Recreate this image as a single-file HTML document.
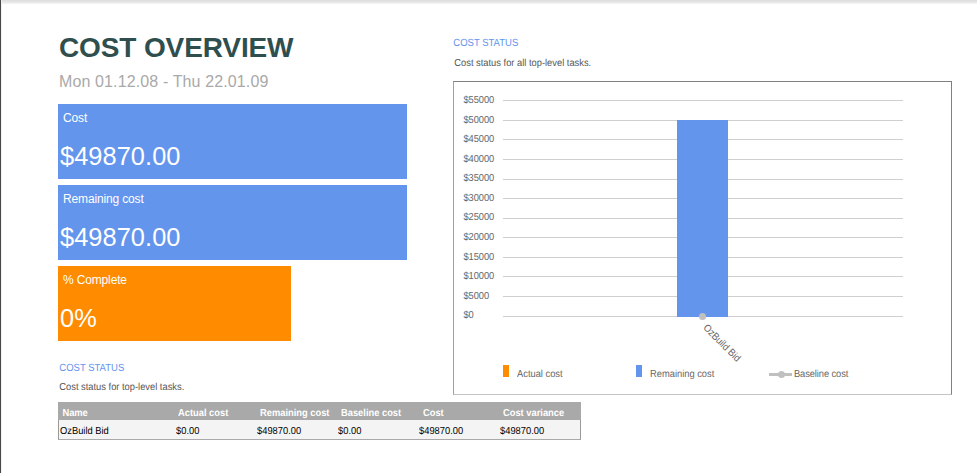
<!DOCTYPE html>
<html><head><meta charset="utf-8">
<style>
html,body{margin:0;padding:0;background:#fff;}
body{width:977px;height:473px;position:relative;overflow:hidden;font-family:"Liberation Sans",sans-serif;}
.abs{position:absolute;white-space:nowrap;}
#topbar{left:2px;top:0;width:975px;height:4px;background:linear-gradient(#dcdcdc 0,#e6e6e6 50%,#f6f6f6 100%);}
#leftbar{left:0;top:0;width:2px;height:473px;background:linear-gradient(90deg,#484848 0,#484848 1px,#f2f2f2 1px,#f2f2f2 2px);}
#title{left:59px;top:31px;font-size:28px;font-weight:bold;color:#2f4f4f;line-height:34px;letter-spacing:-0.12px;}
#sub{left:59px;top:72px;font-size:16px;color:#a9a9a9;line-height:20px;letter-spacing:0.125px;}
.box{position:absolute;color:#fff;}
.box .l{position:absolute;left:5px;top:7px;font-size:12px;line-height:14px;white-space:nowrap;letter-spacing:-0.15px;}
.box .v{position:absolute;left:2px;top:37px;letter-spacing:0.05px;font-size:25.4px;line-height:31px;white-space:nowrap;}
.s{font-size:9.33px;line-height:12px;}
.h{color:#6495ed;font-size:9.5px;}
.d{color:#555;}
#chart{left:453px;top:81px;width:497px;height:312px;border:1px solid #808080;border-left-color:#a0a0a0;border-bottom-color:#c4c4c4;}
.gl{left:503px;width:400px;height:1px;background:#cfcfcf;}
.ax{left:463.4px;letter-spacing:-0.05px;font-size:9.33px;line-height:12px;color:#666;}
.lg{font-size:9.33px;line-height:12px;color:#666;}
#thead{left:58px;top:402px;width:523px;height:18px;background:#a9a9a9;}
#trow{left:58px;top:420px;width:521px;height:19px;background:#f4f4f4;border-left:1px solid #999;border-right:1px solid #999;border-bottom:1px solid #aaa;}
.th{top:407px;font-size:9.33px;line-height:12px;font-weight:bold;color:#fff;}
.td{top:425px;font-size:9.33px;line-height:12px;color:#000;}
.s,.ax,.th,.td,.lgx{text-rendering:geometricPrecision;transform:scaleY(1.09);transform-origin:0 77%;}
</style></head><body>
<div class="abs" id="topbar"></div>
<div class="abs" id="leftbar"></div>
<div class="abs" id="title">COST OVERVIEW</div>
<div class="abs" id="sub">Mon 01.12.08 - Thu 22.01.09</div>
<div class="box" style="left:58px;top:104px;width:349px;height:75px;background:#6495ed;"><div class="l">Cost</div><div class="v">$49870.00</div></div>
<div class="box" style="left:58px;top:185px;width:349px;height:75px;background:#6495ed;"><div class="l">Remaining cost</div><div class="v">$49870.00</div></div>
<div class="box" style="left:58px;top:266px;width:233px;height:75px;background:#ff8c00;"><div class="l">% Complete</div><div class="v">0%</div></div>
<div class="abs s h" style="left:59.3px;top:362.8px;">COST STATUS</div>
<div class="abs s d" style="left:59.3px;top:381px;">Cost status for top-level tasks.</div>
<div class="abs s h" style="left:453.3px;top:37.8px;">COST STATUS</div>
<div class="abs s d" style="left:454.3px;top:57px;">Cost status for all top-level tasks.</div>

<div class="abs" id="chart"></div>
<div class="abs gl" style="top:100px"></div>
<div class="abs gl" style="top:120px"></div>
<div class="abs gl" style="top:139px"></div>
<div class="abs gl" style="top:159px"></div>
<div class="abs gl" style="top:179px"></div>
<div class="abs gl" style="top:198px"></div>
<div class="abs gl" style="top:218px"></div>
<div class="abs gl" style="top:237px"></div>
<div class="abs gl" style="top:257px"></div>
<div class="abs gl" style="top:276px"></div>
<div class="abs gl" style="top:296px"></div>
<div class="abs gl" style="top:316px"></div>
<div class="abs ax" style="top:94px">$55000</div>
<div class="abs ax" style="top:114px">$50000</div>
<div class="abs ax" style="top:133px">$45000</div>
<div class="abs ax" style="top:153px">$40000</div>
<div class="abs ax" style="top:172px">$35000</div>
<div class="abs ax" style="top:192px">$30000</div>
<div class="abs ax" style="top:211px">$25000</div>
<div class="abs ax" style="top:231px">$20000</div>
<div class="abs ax" style="top:251px">$15000</div>
<div class="abs ax" style="top:270px">$10000</div>
<div class="abs ax" style="top:290px">$5000</div>
<div class="abs ax" style="top:309px">$0</div>
<div class="abs" style="left:677px;top:120px;width:51px;height:197px;background:#6495ed;"></div>
<div class="abs" style="left:699.1px;top:312.5px;width:7px;height:7px;border-radius:50%;background:#c0c0c0;"></div>
<div class="abs lg" id="rot" style="left:705px;top:320px;letter-spacing:-0.08px;transform-origin:0 50%;text-rendering:geometricPrecision;transform:rotate(45deg) scaleY(1.09);">OzBuild Bid</div>
<div class="abs" style="left:503px;top:365px;width:6px;height:12px;background:#ff8c00;"></div>
<div class="abs lg lgx" style="left:517px;top:368px;">Actual cost</div>
<div class="abs" style="left:636px;top:365px;width:6px;height:12px;background:#6495ed;"></div>
<div class="abs lg lgx" style="left:650px;top:368px;">Remaining cost</div>
<div class="abs" style="left:769px;top:373px;width:23px;height:3px;background:#c0c0c0;"></div>
<div class="abs" style="left:778px;top:371px;width:7px;height:7px;border-radius:50%;background:#c0c0c0;"></div>
<div class="abs lg lgx" style="left:794px;top:368px;letter-spacing:-0.1px;">Baseline cost</div>

<div class="abs" id="thead"></div>
<div class="abs" id="trow"></div>
<div class="abs th" style="left:62.4px;">Name</div>
<div class="abs th" style="left:178px;">Actual cost</div>
<div class="abs th" style="left:260px;">Remaining cost</div>
<div class="abs th" style="left:341px;">Baseline cost</div>
<div class="abs th" style="left:423px;">Cost</div>
<div class="abs th" style="left:503px;">Cost variance</div>
<div class="abs td" style="left:60px;">OzBuild Bid</div>
<div class="abs td" style="left:176px;">$0.00</div>
<div class="abs td" style="left:257px;">$49870.00</div>
<div class="abs td" style="left:338px;">$0.00</div>
<div class="abs td" style="left:419px;">$49870.00</div>
<div class="abs td" style="left:500px;">$49870.00</div>
</body></html>
